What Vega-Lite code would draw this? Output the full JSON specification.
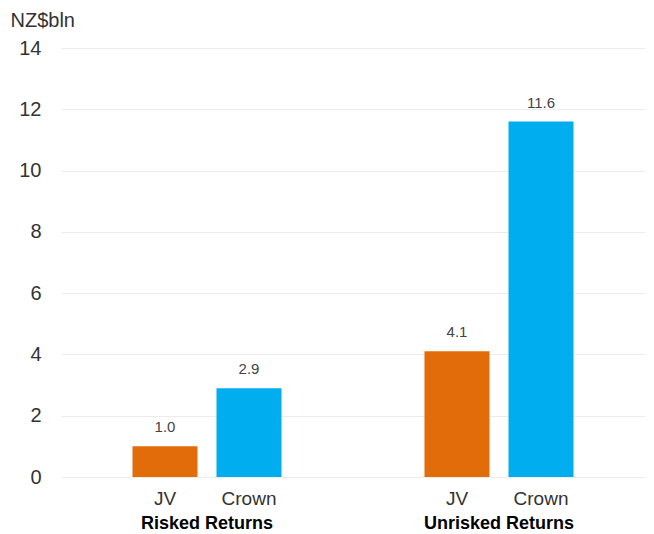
{
  "$schema": "https://vega.github.io/schema/vega-lite/v6.json",
  "autosize": "none",
  "width": 584,
  "height": 429,
  "padding": {"left": 61, "top": 48, "right": 9, "bottom": 57},
  "background": "white",
  "config": {
    "font": "Liberation Sans",
    "view": {"stroke": null}
  },
  "data": {
    "values": [
      {"group": "Risked Returns", "series": "JV", "value": 1.0},
      {"group": "Risked Returns", "series": "Crown", "value": 2.9},
      {"group": "Unrisked Returns", "series": "JV", "value": 4.1},
      {"group": "Unrisked Returns", "series": "Crown", "value": 11.6}
    ]
  },
  "encoding": {
    "x": {
      "field": "group",
      "type": "nominal",
      "sort": ["Risked Returns", "Unrisked Returns"],
      "scale": {"paddingInner": 0, "paddingOuter": 0},
      "axis": {
        "title": null,
        "domain": false,
        "ticks": false,
        "labelAngle": 0,
        "labelPadding": 37,
        "labelFontSize": 18,
        "labelFontWeight": "bold",
        "labelColor": "#000000",
        "labelFont": "Liberation Sans"
      }
    },
    "xOffset": {
      "field": "series",
      "type": "nominal",
      "sort": ["JV", "Crown"],
      "scale": {"paddingInner": 0.226, "paddingOuter": 0.851}
    }
  },
  "layer": [
    {
      "mark": {"type": "bar"},
      "encoding": {
        "y": {
          "field": "value",
          "type": "quantitative",
          "scale": {"domain": [0, 14], "nice": false},
          "axis": {
            "values": [0, 2, 4, 6, 8, 10, 12, 14],
            "domain": false,
            "ticks": false,
            "gridColor": "#ececec",
            "gridWidth": 1,
            "labelFontSize": 20,
            "labelColor": "#333333",
            "labelPadding": 20,
            "title": "NZ$bln",
            "titleAngle": 0,
            "titleAlign": "left",
            "titleBaseline": "alphabetic",
            "titleX": -51,
            "titleY": -22,
            "titleFontSize": 20,
            "titleFontWeight": "normal",
            "titleColor": "#333333"
          }
        },
        "color": {
          "field": "series",
          "type": "nominal",
          "scale": {"domain": ["JV", "Crown"], "range": ["#E36C0A", "#00AEEF"]},
          "legend": null
        }
      }
    },
    {
      "mark": {"type": "text", "baseline": "alphabetic", "dy": -14, "fontSize": 15, "color": "#444444"},
      "encoding": {
        "y": {"field": "value", "type": "quantitative"},
        "text": {"field": "value", "type": "quantitative", "format": ".1f"}
      }
    },
    {
      "mark": {"type": "text", "baseline": "alphabetic", "dy": 28, "fontSize": 19, "color": "#333333"},
      "encoding": {
        "y": {"datum": 0, "type": "quantitative"},
        "text": {"field": "series", "type": "nominal"}
      }
    }
  ]
}
